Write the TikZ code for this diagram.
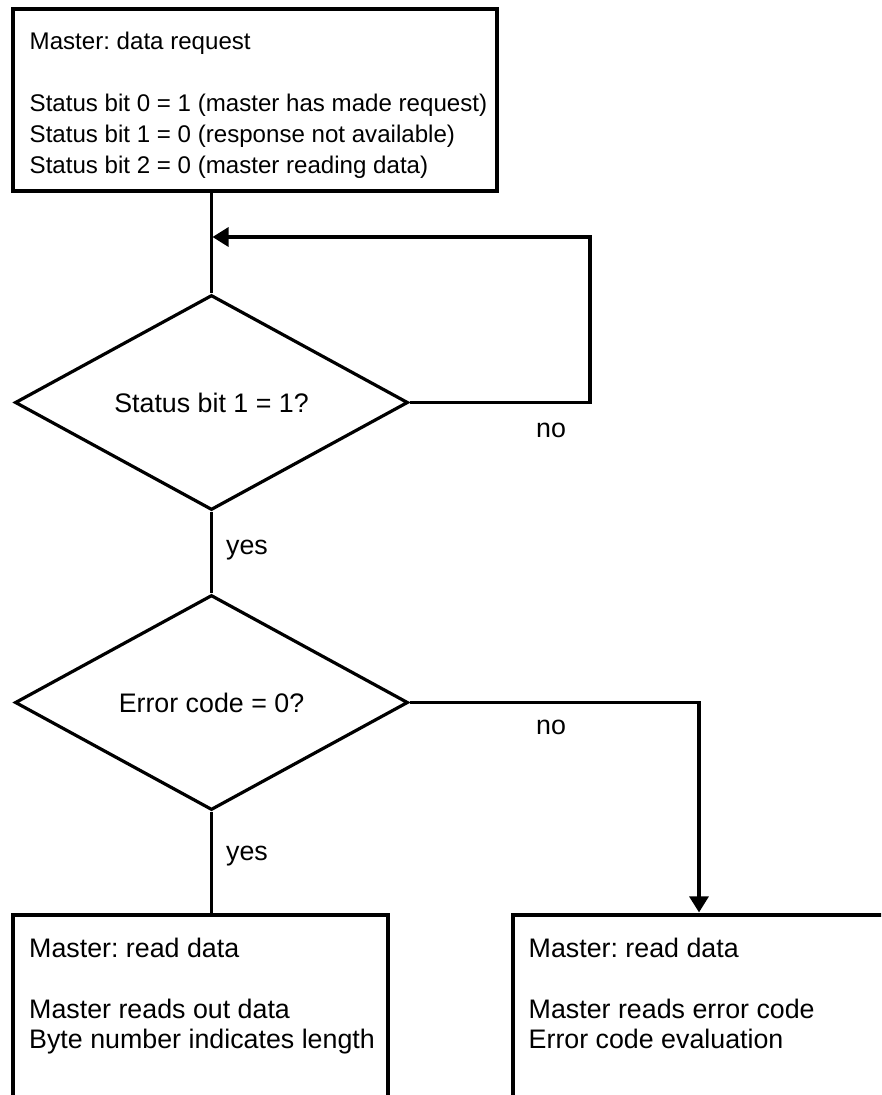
\documentclass[tikz,border=0pt]{standalone}
\usepackage{fontspec}
\setmainfont{Liberation Sans}
\usetikzlibrary{shapes.geometric,arrows.meta}
\frenchspacing
\begin{document}
\begin{tikzpicture}[x=1pt,y=-1pt,
  every node/.style={font=\fontsize{26.8}{30.5}\selectfont},
  boxshape/.style={draw,rectangle,line width=3.2pt,inner sep=0pt,minimum width=#1},
  decision/.style={draw,diamond,line width=3.2pt,inner sep=0pt,minimum width=393pt,minimum height=215pt},
  txt/.style={anchor=north west,align=left,inner sep=0pt},
  toptext/.style={txt,font=\fontsize{24.1}{31}\selectfont},
  lbl/.style={inner sep=0pt},
  conn/.style={line width=3.2pt},
  arr/.style={conn,-{Triangle[width=19pt,length=16pt]},shorten >=1pt},
]
\useasboundingbox (0,0) rectangle (881,1095);
\clip (0,0) rectangle (881,1095);
\fill[white] (0,0) rectangle (881,1095);

% boxes
\node[boxshape=484pt,minimum height=182pt] (top) at (255,100) {};
\node[toptext] (toptxt) at (29.5,31.5) {Master: data request\\[31pt]Status bit 0 = 1 (master has made request)\\Status bit 1 = 0 (response not available)\\Status bit 2 = 0 (master reading data)};

\node[decision] (d1) at (211.5,402.5) {Status bit 1 = 1?};
\node[decision] (d2) at (211.5,702.5) {Error code = 0?};

\node[boxshape=375pt,minimum height=205pt] (lbox) at (200.5,1017.5) {};
\node[txt] (ltxt) at (29,937.8) {Master: read data\\[30.5pt]Master reads out data\\Byte number indicates length};

\node[boxshape=372pt,minimum height=205pt] (rbox) at (699,1017.5) {};
\node[txt] (rtxt) at (528.5,937.8) {Master: read data\\[30.5pt]Master reads error code\\Error code evaluation};

% connectors
\draw[conn] (top.south -| d1.north) -- (d1.north);
\coordinate (loop) at (590,237);
\draw[arr] (d1.east) -| (loop) -- (loop -| d1.north);
\draw[conn] (d1.south) -- (d2.north);
\draw[conn] (d2.south) -- (d2.south |- lbox.north);
\draw[arr] (d2.east) -| (rbox.north);

% labels
\node[lbl] (no1) at (551,430) {no};
\node[lbl] (yes1) at (247,550) {yes};
\node[lbl] (no2) at (551,727) {no};
\node[lbl] (yes2) at (247,856) {yes};
\end{tikzpicture}
\end{document}
